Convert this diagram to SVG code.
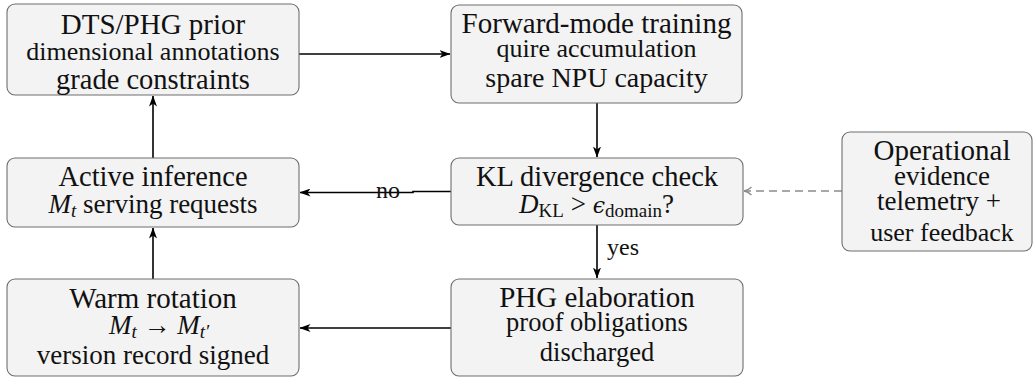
<svg xmlns="http://www.w3.org/2000/svg" width="1033" height="377" viewBox="0 0 1033 377">
<style>
.box{fill:#f3f3f3;stroke:#6e6e6e;stroke-width:1.1}
.edge{stroke:#000;stroke-width:1.6;fill:none}
</style>
<defs>
<marker id="ah" viewBox="0 0 11 8" refX="10.5" refY="4" markerWidth="11" markerHeight="8" markerUnits="userSpaceOnUse" orient="auto">
<path d="M0,0 L11,4 L0,8 L3,4 z" fill="#000"/>
</marker>
<marker id="ahg" viewBox="0 0 10 10" refX="9" refY="5" markerWidth="10" markerHeight="10" markerUnits="userSpaceOnUse" orient="auto">
<path d="M1.5,1 Q5,4.5 9,5 Q5,5.5 1.5,9" fill="none" stroke="#8c8c8c" stroke-width="1.3"/>
</marker>
</defs>

<g id="connectors">
<line class="edge" x1="299" y1="54" x2="450" y2="54" marker-end="url(#ah)"/>
<line class="edge" x1="597" y1="103" x2="597" y2="157" marker-end="url(#ah)"/>
<line class="edge" x1="597" y1="225" x2="597" y2="278" marker-end="url(#ah)"/>
<polyline class="edge" points="451,191.5 413,191.5 413,192.5 300,192.5" marker-end="url(#ah)"/>
<line class="edge" x1="451" y1="328" x2="300" y2="328" marker-end="url(#ah)"/>
<line class="edge" x1="153" y1="279" x2="153" y2="228" marker-end="url(#ah)"/>
<line class="edge" x1="153" y1="158" x2="153" y2="96" marker-end="url(#ah)"/>
<line x1="842" y1="191" x2="744" y2="191" stroke="#8c8c8c" stroke-width="1.3" stroke-dasharray="8 5" fill="none" marker-end="url(#ahg)"/>
<text x="607" y="255" font-family="Liberation Serif" font-size="24" fill="#111">yes</text>
<text x="376" y="198" font-family="Liberation Serif" font-size="24" fill="#111">no</text>
</g>

<g id="prior">
<rect class="box" x="7" y="4" width="292" height="91" rx="8"/>
<text x="153" y="34" font-family="Liberation Serif" font-size="29" fill="#111" text-anchor="middle">DTS/PHG prior</text>
<text x="153" y="60" font-family="Liberation Serif" font-size="26" fill="#111" text-anchor="middle">dimensional annotations</text>
<text x="153" y="89" font-family="Liberation Serif" font-size="28.5" fill="#111" text-anchor="middle">grade constraints</text>
</g>

<g id="training">
<rect class="box" x="451" y="5" width="291" height="98" rx="8"/>
<text x="596.5" y="33" font-family="Liberation Serif" font-size="29" fill="#111" text-anchor="middle">Forward-mode training</text>
<text x="596.5" y="57" font-family="Liberation Serif" font-size="26" fill="#111" text-anchor="middle">quire accumulation</text>
<text x="596.5" y="87" font-family="Liberation Serif" font-size="28" fill="#111" text-anchor="middle">spare NPU capacity</text>
</g>

<g id="inference">
<rect class="box" x="7" y="158" width="292" height="69" rx="8"/>
<text x="153" y="186" font-family="Liberation Serif" font-size="28.5" fill="#111" text-anchor="middle">Active inference</text>
<text x="153" y="213" font-family="Liberation Serif" font-size="27" fill="#111" text-anchor="middle"><tspan font-style="italic">M</tspan><tspan font-size="19" dy="4" font-style="italic">t</tspan><tspan dy="-4"> serving requests</tspan></text>
</g>

<g id="klcheck">
<rect class="box" x="451" y="158" width="292" height="67" rx="8"/>
<text x="597" y="186" font-family="Liberation Serif" font-size="28.5" fill="#111" text-anchor="middle">KL divergence check</text>
<text x="596.5" y="213" font-family="Liberation Serif" font-size="27" fill="#111" text-anchor="middle"><tspan font-style="italic">D</tspan><tspan font-size="19" dy="4">KL</tspan><tspan dy="-4">  &gt;  </tspan><tspan font-family="DejaVu Serif" font-style="italic" font-size="22">&#x3F5;</tspan><tspan font-size="19" dy="4">domain</tspan><tspan dy="-4">?</tspan></text>
</g>

<g id="elaboration">
<rect class="box" x="451" y="279" width="292" height="97" rx="8"/>
<text x="597" y="307" font-family="Liberation Serif" font-size="29" fill="#111" text-anchor="middle">PHG elaboration</text>
<text x="597" y="331" font-family="Liberation Serif" font-size="26.5" fill="#111" text-anchor="middle">proof obligations</text>
<text x="597" y="361" font-family="Liberation Serif" font-size="26.5" fill="#111" text-anchor="middle">discharged</text>
</g>

<g id="rotation">
<rect class="box" x="7" y="279" width="292" height="97" rx="8"/>
<text x="153" y="308" font-family="Liberation Serif" font-size="29" fill="#111" text-anchor="middle">Warm rotation</text>
<text x="159" y="334" font-family="Liberation Serif" font-size="27" fill="#111" text-anchor="middle"><tspan font-style="italic">M</tspan><tspan font-size="19" dy="4" font-style="italic">t</tspan><tspan dy="-4">  &#x2192;  </tspan><tspan font-style="italic">M</tspan><tspan font-size="19" dy="4" font-style="italic">t&#x2032;</tspan></text>
<text x="153" y="364" font-family="Liberation Serif" font-size="27" fill="#111" text-anchor="middle">version record signed</text>
</g>

<g id="evidence">
<rect class="box" x="842" y="132" width="190" height="119" rx="8"/>
<text x="942" y="160" font-family="Liberation Serif" font-size="29" fill="#111" text-anchor="middle">Operational</text>
<text x="942" y="185" font-family="Liberation Serif" font-size="27" fill="#111" text-anchor="middle">evidence</text>
<text x="939" y="210" font-family="Liberation Serif" font-size="27" fill="#111" text-anchor="middle">telemetry +</text>
<text x="942" y="241" font-family="Liberation Serif" font-size="26" fill="#111" text-anchor="middle">user feedback</text>
</g>
</svg>
